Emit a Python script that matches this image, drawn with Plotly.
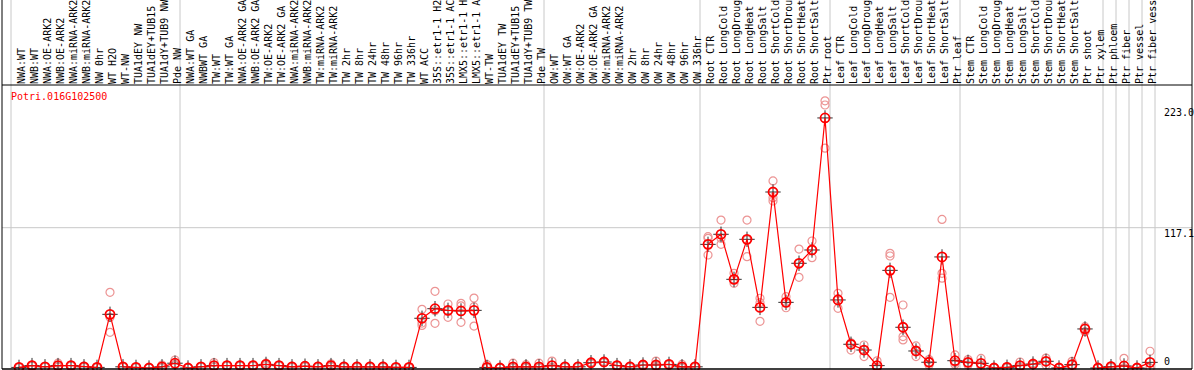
import plotly.graph_objects as go

gene_name = "Potri.016G102500"

labels = [
    "NWA:WT", "NWB:WT", "NWA:OE-ARK2", "NWB:OE-ARK2", "NWA:miRNA-ARK2", "NWB:miRNA-ARK2",
    "NW 0hr", "WT H2O", "WT-NW", "TUA1dEY NW", "TUA1dEY+TUB15 NW", "TUA1dY+TUB9 NW", "Pde NW",
    "NWA:WT GA", "NWBWT GA", "TW:WT", "TW:WT GA", "NWA:OE-ARK2 GA", "NWB:OE-ARK2 GA",
    "TW:OE-ARK2", "TW:OE-ARK2 GA", "NWA:miRNA-ARK2 GA", "NWB:miRNA-ARK2 GA", "TW:miRNA-ARK2",
    "TW:miRNA-ARK2 GA", "TW 2hr", "TW 8hr", "TW 24hr", "TW 48hr", "TW 96hr", "TW 336hr",
    "WT ACC", "35S::etr1-1 H2O", "35S::etr1-1 ACC", "LMX5::etr1-1 H2O", "LMX5::etr1-1 ACC",
    "WT-TW", "TUA1dEY TW", "TUA1dEY+TUB15 TW", "TUA1dY+TUB9 TW", "Pde TW",
    "OW:WT", "OW:WT GA", "OW:OE-ARK2", "OW:OE-ARK2 GA", "OW:miRNA-ARK2", "OW:miRNA-ARK2 GA",
    "OW 2hr", "OW 8hr", "OW 24hr", "OW 48hr", "OW 96hr", "OW 336hr",
    "Root CTR", "Root LongCold", "Root LongDrought", "Root LongHeat", "Root LongSalt",
    "Root ShortCold", "Root ShortDrought", "Root ShortHeat", "Root ShortSalt", "Ptr root",
    "Leaf CTR", "Leaf LongCold", "Leaf LongDrought", "Leaf LongHeat", "Leaf LongSalt",
    "Leaf ShortCold", "Leaf ShortDrought", "Leaf ShortHeat", "Leaf ShortSalt", "Ptr leaf",
    "Stem CTR", "Stem LongCold", "Stem LongDrought", "Stem LongHeat", "Stem LongSalt",
    "Stem ShortCold", "Stem ShortDrought", "Stem ShortHeat", "Stem ShortSalt", "Ptr shoot",
    "Ptr xylem", "Ptr phloem", "Ptr fiber", "Ptr vessel", "Ptr fiber vessel",
]

group_sizes = [13, 28, 12, 10, 10, 11, 1, 1, 1, 1]

means = [
    0.5, 2, 1, 2, 2, 1, 0.5, 44.8, 1, 0.5, 0, 1, 4,
    0, 1, 2, 2, 2, 2, 3, 2, 1, 1.5, 1, 2, 1, 1, 1, 1, 0.5, 0.5,
    41.5, 49.5, 48.1, 47.6, 48.1, 0.5, 0, 1, 1, 1,
    2, 1, 1, 4.4, 5, 2, 1, 2.5, 2.5, 3, 1, 1,
    103.2, 111.6, 74, 107.4, 50.6, 146.9, 54.8, 87.4, 98.5, 208.7,
    56.8, 19.8, 15, 2, 81.5, 34, 14.2, 4.8, 92.7, 6.1,
    4.7, 3.9, 0, 0.6, 2, 3.3, 5.6, 0, 2.8, 32.6, 0,
    1.1, 1.7, 0, 4.7,
]

rep_a = [
    0.3, 1.5, 0.8, 0.8, 1.5, 0.5, 0.3, 63.2, 0.8, 0.3, 0, 0.2, 2.5,
    0, 0.8, 0.8, 1.5, 1.5, 1.5, 2, 1.5, 0.5, 1, 0.5, 1, 0.5, 0.5, 0.5, 0.5, 0.3, 0.3,
    49, 64, 53.4, 54, 58.4, 0, 0, 0, 0, 0,
    0, 0.5, 0.5, 3.5, 4.5, 1.5, 0.5, 2, 0.5, 2.5, 0, 0.5,
    109.6, 123.5, 79, 123.5, 58.2, 156.1, 59.5, 99.3, 106, 223.0,
    62.3, 21, 19.2, 6, 95.7, 52.6, 18.4, 7, 124, 10.9,
    7, 8, 0, 0, 5, 4, 8.3, 0, 5.6, 34.5, 0,
    0.5, 8.1, 0, 14,
]

rep_b = [
    0.5, 2, 1, 1.2, 2, 1, 0.5, 42.3, 1, 0.5, 0, 0.3, 3,
    0, 1, 1, 2, 2, 2, 3, 2, 1, 1.5, 1, 1.5, 1, 1, 1, 1, 0.5, 0.5,
    37.5, 47.8, 47.8, 51.8, 51.2, 0.5, 0, 0.5, 0.5, 0.5,
    0.5, 1, 1, 4.5, 5, 2, 1, 2.5, 1.5, 3, 0.5, 1,
    108.2, 108.2, 74, 107, 54.5, 142.2, 54.8, 87.4, 98.5, 219.5,
    58, 19.8, 15, 0.5, 93.5, 26.2, 14.2, 4.8, 79, 4.5,
    4.5, 2.5, 0, 0.6, 1, 3.3, 5.6, 0, 2.8, 33, 0,
    1.1, 0, 0, 0,
]

rep_c = [
    0.7, 2.5, 1.2, 4, 2.5, 1.5, 0.7, 29.8, 1.2, 0.7, 0, 2.5, 6.7,
    0, 1.2, 4.5, 2.5, 2.5, 2.5, 4, 2.5, 1.5, 2, 1.5, 3.5, 1.5, 1.5, 1.5, 1.5, 0.7, 0.7,
    35.5, 37.3, 42.3, 38.1, 35, 2.8, 0, 4, 2.8, 4,
    5.8, 1.5, 1.5, 5, 5.5, 2.5, 1.5, 3, 5.8, 3.5, 3, 1.5,
    94.3, 103.2, 70.7, 92.9, 39, 139.4, 50.3, 75.7, 92.1, 183.5,
    49.8, 15, 9.5, 0, 59, 23.4, 9.5, 2.5, 75, 3,
    2.5, 1, 0.5, 1.2, 0, 2.6, 2.5, 0, 0, 30.3, 0,
    1.7, 0, 0, 0,
]

y_labels = ["223.0", "117.1", "0"]
y_label_vals = [223.0, 117.1, 0.0]

# ---------------------------------------------------------------
n = len(labels)
xs = list(range(n))
grid_color = "#c8c8c8"
mono = "DejaVu Sans Mono"

fig = go.Figure()

# replicate points
rx, ry = [], []
for rep in (rep_a, rep_b, rep_c):
    rx.extend(xs)
    ry.extend(rep)
fig.add_trace(go.Scatter(
    x=rx, y=ry, mode="markers", cliponaxis=False,
    marker=dict(symbol="circle-open", size=8, color="#ec9494", line=dict(width=1.2)),
    hoverinfo="skip", showlegend=False,
))

# mean markers: small black crosshair ticks beneath the red ring
fig.add_trace(go.Scatter(
    x=xs, y=means, mode="markers", cliponaxis=False,
    marker=dict(symbol="cross-thin-open", size=11, color="#1a1a1a", line=dict(width=0.9)),
    hoverinfo="skip", showlegend=False,
))
# mean line
fig.add_trace(go.Scatter(
    x=xs, y=means, mode="lines", line=dict(color="#ff0000", width=1.2),
    hoverinfo="skip", showlegend=False,
))
fig.add_trace(go.Scatter(
    x=xs, y=means, mode="markers", cliponaxis=False,
    marker=dict(symbol="circle-open", size=9, color="#ff0000", line=dict(width=1.8)),
    hovertext=labels, showlegend=False,
))

shapes = []
# vertical group separators (span plot + label area)
b = 0
bounds = [0]
for g in group_sizes:
    b += g
    bounds.append(b)
for bb in bounds:
    xv = bb - 0.615
    shapes.append(dict(type="line", xref="x", yref="paper", x0=xv, x1=xv, y0=0, y1=1.35,
                       line=dict(color=grid_color, width=1), layer="below"))
# horizontal grid at 117.1
shapes.append(dict(type="line", xref="paper", yref="y", x0=0, x1=1, y0=y_label_vals[1], y1=y_label_vals[1],
                   line=dict(color=grid_color, width=1), layer="below"))
# frame lines
shapes.append(dict(type="line", xref="paper", yref="paper", x0=0, x1=0, y0=0, y1=1.35,
                   line=dict(color="black", width=1)))
shapes.append(dict(type="line", xref="paper", yref="paper", x0=1, x1=1, y0=0, y1=1.35,
                   line=dict(color="black", width=1)))
shapes.append(dict(type="line", xref="paper", yref="paper", x0=0, x1=1, y0=1, y1=1,
                   line=dict(color="black", width=1)))
shapes.append(dict(type="line", xref="paper", yref="paper", x0=0, x1=1, y0=0, y1=0,
                   line=dict(color="black", width=1.5)))

annotations = [
    dict(text=gene_name, xref="paper", yref="paper", x=0.006, y=0.958, xanchor="left",
         yanchor="middle", showarrow=False, font=dict(family=mono, size=10, color="#ff0000")),
    dict(text=y_labels[0], xref="paper", yref="y", x=0.9745, y=y_label_vals[0], xanchor="left",
         yanchor="top", yshift=-4, showarrow=False, font=dict(family=mono, size=10, color="black")),
    dict(text=y_labels[1], xref="paper", yref="y", x=0.9745, y=y_label_vals[1], xanchor="left",
         yanchor="top", yshift=2, showarrow=False, font=dict(family=mono, size=10, color="black")),
    dict(text=y_labels[2], xref="paper", yref="y", x=0.9745, y=y_label_vals[2], xanchor="left",
         yanchor="bottom", yshift=-1, showarrow=False, font=dict(family=mono, size=10, color="black")),
]

fig.update_layout(
    template="none",
    width=1194, height=370,
    margin=dict(l=2, r=2, t=85, b=1, pad=0),
    paper_bgcolor="white", plot_bgcolor="white",
    showlegend=False,
    shapes=shapes,
    annotations=annotations,
    xaxis=dict(
        range=[-1.3077, 90.23], side="top", tickmode="array",
        tickvals=[i + 0.2 for i in xs], ticktext=labels,
        tickangle=-90, tickfont=dict(family=mono, size=10, color="black"),
        ticks="", showgrid=False, zeroline=False, showline=False, automargin=False,
        ticklabelstandoff=0,
    ),
    yaxis=dict(
        range=[-0.83, 236.2], showticklabels=False, ticks="", showgrid=False,
        zeroline=False, showline=False, automargin=False,
    ),
)

fig.write_html(
    "out.html",
    config={"displayModeBar": False},
    post_script="document.body.style.margin='0px';document.body.style.overflow='hidden';",
)
